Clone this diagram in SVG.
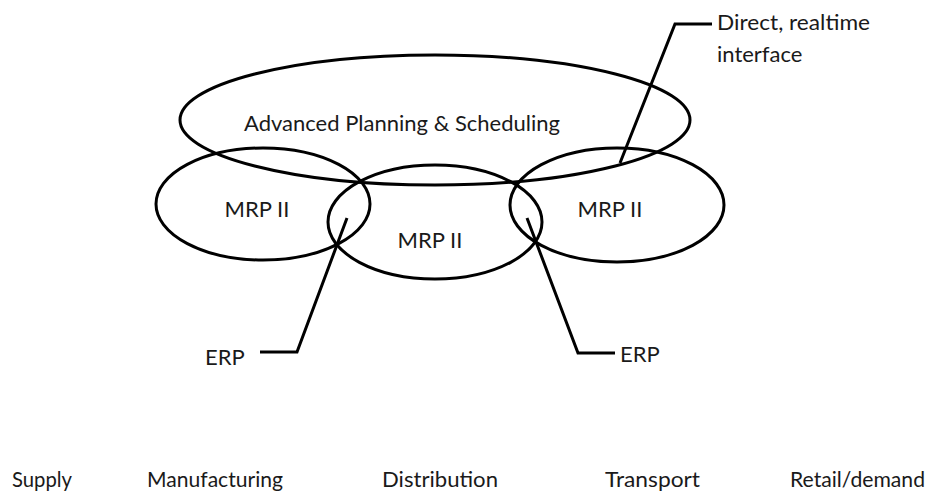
<svg xmlns="http://www.w3.org/2000/svg" width="929" height="493" viewBox="0 0 929 493">
  <style>
    .shape { fill: none; stroke: #000; stroke-width: 3; }
    .lead { fill: none; stroke: #000; stroke-width: 3; stroke-linejoin: miter; }
    text { font-family: Lato, "Open Sans", "Liberation Sans", sans-serif; font-size: 22px; fill: #1a1a1a; }
    .mid { text-anchor: middle; }
  </style>
  <rect width="929" height="493" fill="#fff"/>

  <!-- planning layers -->
  <g id="aps">
    <ellipse class="shape" cx="435" cy="120" rx="255" ry="65"/>
    <text class="mid" x="402" y="131">Advanced Planning &amp; Scheduling</text>
  </g>
  <g id="mrp-left">
    <ellipse class="shape" cx="263" cy="204" rx="107" ry="56"/>
    <text class="mid" x="257" y="217">MRP II</text>
  </g>
  <g id="mrp-mid">
    <ellipse class="shape" cx="435" cy="222" rx="107" ry="57"/>
    <text class="mid" x="430" y="248">MRP II</text>
  </g>
  <g id="mrp-right">
    <ellipse class="shape" cx="617" cy="205" rx="107" ry="57"/>
    <text class="mid" x="610" y="217">MRP II</text>
  </g>

  <!-- callouts -->
  <g id="connectors">
    <polyline class="lead" points="620,163 675,24 712,24"/>
    <polyline class="lead" points="347,218 297,352 260,352"/>
    <polyline class="lead" points="527,218 578,353 615,353"/>
  </g>
  <g id="callout-labels">
    <text x="717" y="30" textLength="153" lengthAdjust="spacingAndGlyphs">Direct, realtime</text>
    <text x="717" y="62">interface</text>
    <text x="205" y="365">ERP</text>
    <text x="620" y="362">ERP</text>
  </g>

  <!-- supply chain stages -->
  <g id="stages">
    <text x="12" y="487" textLength="60" lengthAdjust="spacingAndGlyphs">Supply</text>
    <text x="147" y="487" textLength="136" lengthAdjust="spacingAndGlyphs">Manufacturing</text>
    <text x="382" y="487" textLength="116" lengthAdjust="spacingAndGlyphs">Distribution</text>
    <text x="605" y="487" textLength="95" lengthAdjust="spacingAndGlyphs">Transport</text>
    <text x="790" y="487" textLength="135" lengthAdjust="spacingAndGlyphs">Retail/demand</text>
  </g>
</svg>
